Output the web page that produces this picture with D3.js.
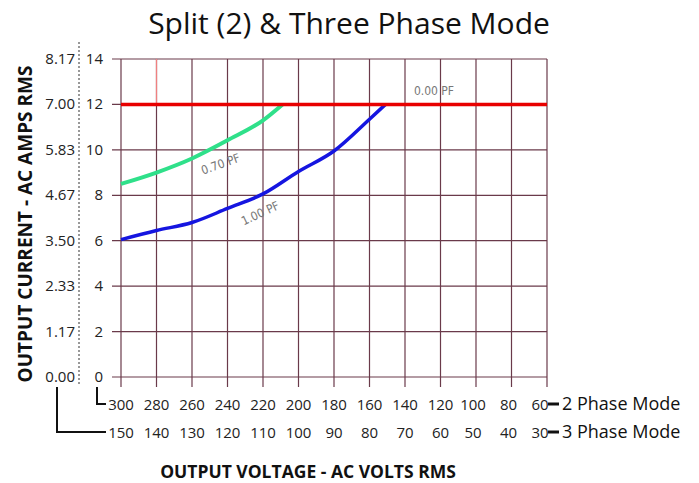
<!DOCTYPE html>
<html>
<head>
<meta charset="utf-8">
<script src="https://cdn.jsdelivr.net/npm/d3@7"></script>
<style>
  body { margin: 0; background: #fff; }
  svg { display: block; font-family: "Open Sans", "Noto Sans", sans-serif; }
</style>
</head>
<body>
<svg id="chart" width="699" height="483"></svg>
<script>
// axis values
var volts2 = [300, 280, 260, 240, 220, 200, 180, 160, 140, 120, 100, 80, 60];
var volts3 = [150, 140, 130, 120, 110, 100, 90, 80, 70, 60, 50, 40, 30];
var ampTicks = [0, 2, 4, 6, 8, 10, 12, 14];
var ampsRms = ["0.00", "1.17", "2.33", "3.50", "4.67", "5.83", "7.00", "8.17"];

// curves: [2 phase volts, amps]
var pf000 = [[300, 12], [60, 12]];
var pf070 = [[300, 8.5], [280, 9.0], [260, 9.62], [240, 10.42], [220, 11.3], [209, 12]];
var pf100 = [[300, 6.05], [280, 6.45], [260, 6.8], [240, 7.42], [220, 8.06], [200, 9.05], [180, 9.95], [160, 11.35], [151, 12]];

var svg = d3.select("#chart");

var x = d3.scaleLinear().domain([300, 60]).range([121, 547]);
var y = d3.scaleLinear().domain([0, 14]).range([377, 59]);

var gridColor = "#6a3a4a";
var tickFont = 15;
var g = svg.append("g");

// horizontal grid (with left tick stubs)
g.selectAll("line.h").data(ampTicks).enter().append("line")
  .attr("x1", 112).attr("x2", x(60))
  .attr("y1", d => y(d)).attr("y2", d => y(d))
  .attr("stroke", gridColor).attr("stroke-width", 1.2);

// vertical grid (with bottom tick stubs)
g.selectAll("line.v").data(volts2).enter().append("line")
  .attr("x1", d => x(d)).attr("x2", d => x(d))
  .attr("y1", y(14)).attr("y2", 387)
  .attr("stroke", gridColor).attr("stroke-width", 1.2);

// faint red segment above the 12A line at 280
g.append("line")
  .attr("x1", x(280)).attr("x2", x(280))
  .attr("y1", y(14)).attr("y2", y(12))
  .attr("stroke", "#f08080").attr("stroke-width", 1.2);

// inner y labels
svg.selectAll("text.ya").data(ampTicks).enter().append("text")
  .attr("x", 103).attr("y", d => y(d) + 5)
  .attr("text-anchor", "end").attr("font-size", tickFont).attr("fill", "#222")
  .text(d => d);

// outer y labels (AC amps RMS)
svg.selectAll("text.yb").data(ampsRms).enter().append("text")
  .attr("x", 75).attr("y", (d, i) => y(ampTicks[i]) + 5)
  .attr("text-anchor", "end").attr("font-size", tickFont).attr("fill", "#222")
  .text(d => d);

// dotted separator
svg.append("line")
  .attr("x1", 79).attr("x2", 79).attr("y1", 42).attr("y2", 384)
  .attr("stroke", "#333").attr("stroke-width", 1).attr("stroke-dasharray", "2,2");

// bottom labels (last one sits a little left of its grid line)
var xdx = (d, i) => i === volts2.length - 1 ? -7 : (i > 9 ? -3 : 0);
svg.selectAll("text.x2").data(volts2).enter().append("text")
  .attr("x", (d, i) => x(d) + xdx(d, i)).attr("y", 410)
  .attr("text-anchor", "middle").attr("font-size", tickFont).attr("fill", "#222")
  .text(d => d);
svg.selectAll("text.x3").data(volts3).enter().append("text")
  .attr("x", (d, i) => x(volts2[i]) + xdx(d, i)).attr("y", 438)
  .attr("text-anchor", "middle").attr("font-size", tickFont).attr("fill", "#222")
  .text(d => d);

// brackets
svg.append("path").attr("d", "M97,387V404H106")
  .attr("fill", "none").attr("stroke", "#111").attr("stroke-width", 2);
svg.append("path").attr("d", "M57,387V432H106")
  .attr("fill", "none").attr("stroke", "#111").attr("stroke-width", 2);

// right mode labels
[["2 Phase Mode", 404], ["3 Phase Mode", 432]].forEach(function(m) {
  svg.append("line").attr("x1", 548).attr("x2", 559)
    .attr("y1", m[1]).attr("y2", m[1])
    .attr("stroke", "#111").attr("stroke-width", 3);
  svg.append("text").attr("x", 562).attr("y", m[1] + 6)
    .attr("font-size", 18).attr("fill", "#111").text(m[0]);
});

// curves
var line = d3.line().x(d => x(d[0])).y(d => y(d[1])).curve(d3.curveMonotoneX);
svg.append("path").datum(pf070).attr("d", line)
  .attr("fill", "none").attr("stroke", "#2fe08a").attr("stroke-width", 4);
svg.append("path").datum(pf100).attr("d", line)
  .attr("fill", "none").attr("stroke", "#1515e0").attr("stroke-width", 3.5);
svg.append("path").datum(pf000).attr("d", line)
  .attr("fill", "none").attr("stroke", "#e80000").attr("stroke-width", 3.5);

// PF labels
var pfFont = "'DejaVu Sans Condensed', 'Liberation Sans Narrow', sans-serif";
svg.append("text").attr("transform", "translate(222,168) rotate(-20)")
  .attr("text-anchor", "middle").attr("font-size", 12).attr("fill", "#777")
  .attr("font-family", pfFont).text("0.70  PF");
svg.append("text").attr("transform", "translate(262,217) rotate(-25)")
  .attr("text-anchor", "middle").attr("font-size", 12).attr("fill", "#777")
  .attr("font-family", pfFont).text("1.00  PF");
svg.append("text").attr("x", 434).attr("y", 95)
  .attr("text-anchor", "middle").attr("font-size", 12).attr("fill", "#777")
  .attr("font-family", pfFont).text("0.00  PF");

// titles
svg.append("text").attr("x", 349).attr("y", 34)
  .attr("text-anchor", "middle").attr("font-size", 30).attr("fill", "#111")
  .text("Split (2) & Three Phase Mode");
svg.append("text").attr("transform", "translate(32,224) rotate(-90)")
  .attr("text-anchor", "middle").attr("font-size", 19).attr("font-weight", "bold")
  .attr("fill", "#111").text("OUTPUT CURRENT - AC AMPS RMS");
svg.append("text").attr("x", 308).attr("y", 478)
  .attr("text-anchor", "middle").attr("font-size", 17.5).attr("font-weight", "bold")
  .attr("fill", "#111").text("OUTPUT VOLTAGE - AC VOLTS RMS");
</script>
</body>
</html>
